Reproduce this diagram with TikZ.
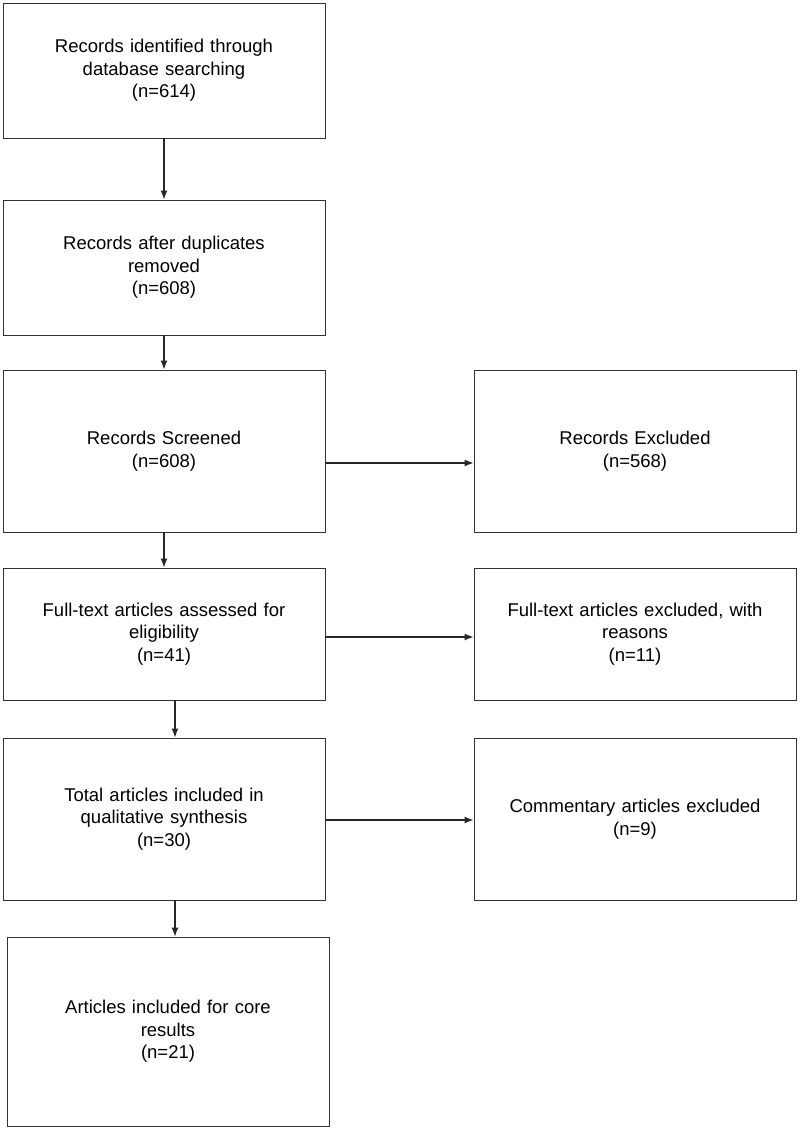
\documentclass[tikz,border=0pt]{standalone}
\usepackage{fontspec}
\setmainfont{Liberation Sans}
\usetikzlibrary{arrows.meta}
\begin{document}
\begin{tikzpicture}[x=1pt,y=-1pt,
  box/.style={draw=black!80,line width=0.9pt,rectangle,minimum width=322pt,align=center,font=\fontsize{18.5}{22.5}\selectfont,text width=300pt},
  flow/.style={-{Latex[length=9pt,width=7pt]},line width=1.3pt,black!85}]
\useasboundingbox (0,0) rectangle (800,1129);
\node[box,minimum height=135pt] (a) at (164,70.5)  {Records identified through\\database searching\\(n=614)};
\node[box,minimum height=135pt] (b) at (164,267.5) {Records after duplicates\\removed\\(n=608)};
\node[box,minimum height=162pt] (c) at (164,451)   {Records Screened\\(n=608)};
\node[box,minimum height=162pt] (d) at (635,451)   {Records Excluded\\(n=568)};
\node[box,minimum height=132pt] (e) at (164,634)   {Full-text articles assessed for\\eligibility\\(n=41)};
\node[box,minimum height=132pt] (f) at (635,634)   {Full-text articles excluded, with\\reasons\\(n=11)};
\node[box,minimum height=162pt] (g) at (164,819)   {Total articles included in\\qualitative synthesis\\(n=30)};
\node[box,minimum height=162pt] (h) at (635,819)   {Commentary articles excluded\\(n=9)};
\node[box,minimum height=189pt] (i) at (168,1031.5) {Articles included for core\\results\\(n=21)};
\draw[flow] (a) -- (b);
\draw[flow] (b) -- (c);
\draw[flow] (c) -- (e);
\draw[flow] ([xshift=11pt]e.south) -- ([xshift=11pt]g.north);
\draw[flow] ([xshift=11pt]g.south) -- ([xshift=7pt]i.north);
\draw[flow] ([yshift=-12pt]c.east) -- ([yshift=-12pt]d.west);
\draw[flow] ([yshift=-3pt]e.east) -- ([yshift=-3pt]f.west);
\draw[flow] ([yshift=-1pt]g.east) -- ([yshift=-1pt]h.west);
\end{tikzpicture}
\end{document}
